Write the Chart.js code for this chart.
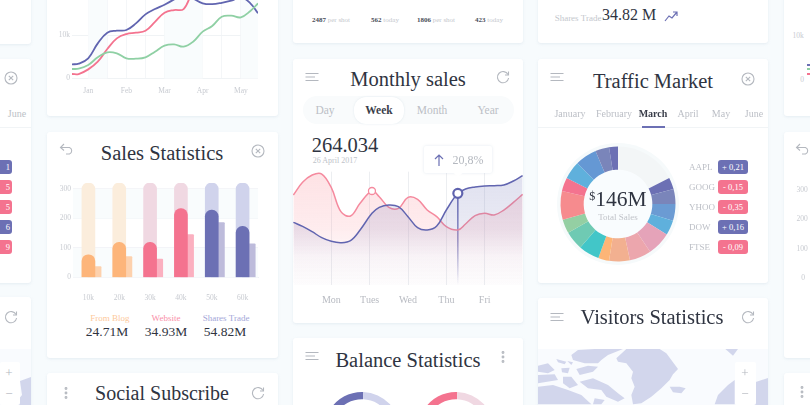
<!DOCTYPE html>
<html>
<head>
<meta charset="utf-8">
<script src="https://cdn.jsdelivr.net/npm/chart.js@4"></script>
<style>
  html { background: #f7fbfd; }
  html, body { margin: 0; height: 405px; width: 810px; overflow: hidden; }
  body { position: relative; font-family: "Liberation Serif", serif; color: #2f3441; background: #f7fbfd; filter: blur(.35px); }
  .card { position: absolute; background: #fff; border-radius: 3px; box-shadow: 0 1px 3px rgba(190,205,220,.3); overflow: hidden; }
  canvas { position: absolute; }
  .t { position: absolute; white-space: nowrap; transform: translate(-50%, -50%); }
  .title { font-size: 20.5px; color: #2f3441; }
  .tab { font-size: 10px; color: #bcbfc6; }
  .b { font-weight: bold; color: #3a3e4a; }
  .ic { position: absolute; width: 16px; height: 16px; transform: translate(-50%, -50%); fill: none; stroke: #b4b8bf; stroke-width: 1.1; }
  .badge { position: absolute; left: 718px; width: 30px; height: 14px; line-height: 14px; border-radius: 3px; color: #fff; font-size: 8.5px; text-align: center; }
  .sym { position: absolute; font-size: 9px; color: #bcbfc6; left: 689px; transform: translateY(-50%); }
  .up { background: #6c70b4; }
  .down { background: #f4738f; }
  .small { font-size: 7px; color: #c4c7cd; }
  .small i { font-style: normal; font-weight: bold; color: #4a4e5a; }
</style>
</head>
<body>
<svg width="0" height="0" style="position:absolute">
  <symbol id="menu" viewBox="0 0 16 16"><path d="M1.500 4.500H14.500M1.500 8H11M1.500 11.500H14.500"/></symbol>
  <symbol id="refresh" viewBox="0 0 16 16"><path d="M13 5.500A5.600 5.600 0 1 0 13.600 9"/><path d="M13.500 2.500V6H10"/></symbol>
  <symbol id="close" viewBox="0 0 16 16"><circle cx="8" cy="8" r="6"/><path d="M5.800 5.800L10.200 10.200M10.200 5.800L5.800 10.200"/></symbol>
  <symbol id="back" viewBox="0 0 16 16"><path d="M5 3L1.500 6.500L5 9.500M1.500 6.500H10.500A3.500 3.500 0 0 1 10.500 13H7"/></symbol>
  <symbol id="dots" viewBox="0 0 16 16"><circle cx="8" cy="3.500" r=".9"/><circle cx="8" cy="8" r=".9"/><circle cx="8" cy="12.500" r=".9"/></symbol>
</svg>

<!-- left edge column -->
<div class="card" style="left:-200px;top:-60px;width:231px;height:104px"></div>
<div class="card" style="left:-200px;top:59px;width:231px;height:224px">
  <div style="position:absolute;left:0;right:0;top:68px;height:1px;background:#f1f4f6"></div>
</div>
<div class="card" style="left:-200px;top:297px;width:231px;height:130px"></div>
<svg class="ic" style="left:11px;top:78px"><use href="#close"/></svg>
<div class="t tab" style="left:17px;top:113px">June</div>
<div class="badge up" style="left:-18px;top:160px;text-align:right;padding-right:2px;width:28px">1</div>
<div class="badge down" style="left:-18px;top:180px;text-align:right;padding-right:2px;width:28px">5</div>
<div class="badge down" style="left:-18px;top:200px;text-align:right;padding-right:2px;width:28px">5</div>
<div class="badge up" style="left:-18px;top:220px;text-align:right;padding-right:2px;width:28px">6</div>
<div class="badge down" style="left:-18px;top:240px;text-align:right;padding-right:2px;width:28px">9</div>
<svg class="ic" style="left:11px;top:317px"><use href="#refresh"/></svg>
<svg style="position:absolute;left:0;top:349px" width="31" height="56"><rect width="31" height="56" fill="#f9fbfe"/><path d="M20 32L31 28V56H14L22 46Z" fill="#d2d6ec"/></svg>
<div style="position:absolute;left:0;top:362px;width:20px;height:43px;background:#fff;border-radius:2px"></div>
<div class="t" style="left:9px;top:373px;font-size:13px;color:#b4b8bf">+</div>
<div class="t" style="left:9px;top:394px;font-size:13px;color:#b4b8bf">−</div>

<!-- first column -->
<div class="card" style="left:47px;top:-60px;width:231px;height:176px"></div>
<canvas id="trendChart" width="230" height="146" style="left:47px;top:-30px"></canvas>

<div class="card" style="left:47px;top:132px;width:231px;height:226px"></div>
<svg class="ic" style="left:67px;top:149px"><use href="#back"/></svg>
<div class="t title" style="left:162px;top:153px">Sales Statistics</div>
<svg class="ic" style="left:258px;top:151px"><use href="#close"/></svg>
<canvas id="salesChart" width="230" height="125" style="left:47px;top:175px"></canvas>
<div class="t" style="left:110px;top:318px;font-size:9px;color:#fdc99b">From Blog</div>
<div class="t" style="left:166px;top:318px;font-size:9px;color:#f98fa8">Website</div>
<div class="t" style="left:226px;top:318px;font-size:9px;color:#a4a6d8">Shares Trade</div>
<div class="t" style="left:107px;top:332px;font-size:13.500px">24.71M</div>
<div class="t" style="left:166px;top:332px;font-size:13.500px">34.93M</div>
<div class="t" style="left:225px;top:332px;font-size:13.500px">54.82M</div>

<div class="card" style="left:47px;top:373px;width:231px;height:80px"></div>
<svg class="ic" style="left:66px;top:393px"><use href="#dots"/></svg>
<div class="t title" style="left:162px;top:393px;font-size:20px">Social Subscribe</div>
<svg class="ic" style="left:258px;top:393px"><use href="#refresh"/></svg>

<!-- second column -->
<div class="card" style="left:293px;top:-60px;width:230px;height:103px"></div>
<div class="t small" style="left:331px;top:20px"><i>2487</i> per shot</div>
<div class="t small" style="left:385px;top:20px"><i>562</i> today</div>
<div class="t small" style="left:436px;top:20px"><i>1806</i> per shot</div>
<div class="t small" style="left:489px;top:20px"><i>423</i> today</div>

<div class="card" style="left:293px;top:59px;width:230px;height:264px"></div>
<svg class="ic" style="left:312px;top:77px"><use href="#menu"/></svg>
<div class="t title" style="left:408px;top:79px">Monthly sales</div>
<svg class="ic" style="left:503px;top:77px"><use href="#refresh"/></svg>
<div style="position:absolute;left:303px;top:96px;width:211px;height:28px;border-radius:14px;background:#f9fbfc"></div>
<div style="position:absolute;left:354px;top:97px;width:50px;height:27px;border-radius:12px;background:#fff;box-shadow:0 0 2px rgba(200,215,225,.5)"></div>
<div class="t" style="left:325px;top:110px;font-size:11.500px;color:#bcbfc6">Day</div>
<div class="t b" style="left:379px;top:110px;font-size:11.500px">Week</div>
<div class="t" style="left:432px;top:110px;font-size:11.500px;color:#bcbfc6">Month</div>
<div class="t" style="left:488px;top:110px;font-size:11.500px;color:#bcbfc6">Year</div>
<div class="t" style="left:345px;top:145px;font-size:20.500px">264.034</div>
<div class="t" style="left:335px;top:160px;font-size:8px;color:#c0c3c9">26 April 2017</div>
<canvas id="weekChart" width="230" height="145" style="left:293px;top:165px"></canvas>
<div style="position:absolute;left:424px;top:146px;width:68px;height:27px;background:#fff;border-radius:2px;box-shadow:0 0 3px rgba(190,205,220,.45)"></div>
<div style="position:absolute;left:455px;top:170px;width:6px;height:6px;background:#fff;transform:rotate(45deg)"></div>
<svg style="position:absolute;left:432px;top:153px" width="14" height="14" fill="none" stroke="#6c70b4" stroke-width="1.200"><path d="M7 13V2M3 6L7 2L11 6"/></svg>
<div class="t" style="left:468px;top:160px;font-size:12px;color:#b4b8bf">20,8%</div>

<div class="card" style="left:293px;top:338px;width:230px;height:110px"></div>
<svg class="ic" style="left:312px;top:356px"><use href="#menu"/></svg>
<div class="t title" style="left:408px;top:360px">Balance Statistics</div>
<svg class="ic" style="left:503px;top:357px"><use href="#dots"/></svg>
<canvas id="balanceA" width="84" height="84" style="left:320px;top:388px"></canvas>
<canvas id="balanceB" width="84" height="84" style="left:414px;top:388px"></canvas>

<!-- third column -->
<div class="card" style="left:538px;top:-60px;width:230px;height:103px"></div>
<div class="t" style="left:578px;top:18px;font-size:9px;color:#c4c7cd">Shares Trade</div>
<div class="t" style="left:629px;top:15px;font-size:16px">34.82 M</div>
<svg style="position:absolute;left:664px;top:9px" width="14" height="14" fill="none" stroke="#6c70b4" stroke-width="1.200"><path d="M1 12L5 7L8 9L13 3M9 3H13V7"/></svg>

<div class="card" style="left:538px;top:59px;width:230px;height:224px">
  <div style="position:absolute;left:0;right:0;top:68px;height:1px;background:#f1f4f6"></div>
</div>
<svg class="ic" style="left:557px;top:77px"><use href="#menu"/></svg>
<div class="t title" style="left:653px;top:81px">Traffic Market</div>
<svg class="ic" style="left:748px;top:79px"><use href="#close"/></svg>
<div class="t tab" style="left:570px;top:113px">January</div>
<div class="t tab" style="left:614px;top:113px">February</div>
<div class="t tab b" style="left:653px;top:113px">March</div>
<div class="t tab" style="left:688px;top:113px">April</div>
<div class="t tab" style="left:721px;top:113px">May</div>
<div class="t tab" style="left:754px;top:113px">June</div>
<div style="position:absolute;left:642px;top:126px;width:23px;height:1.500px;background:#6c70b4"></div>
<div style="position:absolute;left:557px;top:143px;width:122px;height:122px;border-radius:50%;background:#f6fafb"></div>
<div style="position:absolute;left:580px;top:166px;width:76px;height:76px;border-radius:50%;background:#f9fcfe"></div>
<canvas id="marketChart" width="124" height="124" style="left:556px;top:142px"></canvas>
<div class="t" style="left:618px;top:199px;font-size:21.500px;white-space:nowrap"><sup style="font-size:12px;vertical-align:6px">$</sup>146M</div>
<div class="t" style="left:618px;top:217px;font-size:9px;color:#c0c3c9">Total Sales</div>
<div class="sym" style="top:167px">AAPL</div><div class="badge up" style="top:160px">+ 0,21</div>
<div class="sym" style="top:187px">GOOG</div><div class="badge down" style="top:180px">- 0,15</div>
<div class="sym" style="top:207px">YHOO</div><div class="badge down" style="top:200px">- 0,35</div>
<div class="sym" style="top:227px">DOW</div><div class="badge up" style="top:220px">+ 0,16</div>
<div class="sym" style="top:247px">FTSE</div><div class="badge down" style="top:240px">- 0,09</div>

<div class="card" style="left:538px;top:298px;width:230px;height:130px"></div>
<svg class="ic" style="left:557px;top:317px"><use href="#menu"/></svg>
<div class="t title" style="left:652px;top:317px">Visitors Statistics</div>
<svg class="ic" style="left:748px;top:317px"><use href="#refresh"/></svg>
<svg style="position:absolute;left:538px;top:345px" width="230" height="60" viewBox="0 0 690 180">
  <rect x="0" y="12" width="690" height="170" fill="#f9fbfe"/>
  <g fill="#d2d6ec">
    <path d="M235 40L265 12H365L385 25L400 45L420 72L405 88L395 105L370 130L340 155L310 175L285 178L280 150L290 125L280 100L285 80L265 55L240 50Z"/>
    <path d="M395 125L425 125L443 130L430 145L405 142Z"/>
    <path d="M530 178L540 150L570 120L590 105V178Z"/>
    <path d="M642 115L690 99V180H620Z"/>
    <path d="M562 12H600L585 32Z"/>
    <path d="M120 15L170 12H255L210 30L190 45L180 55L140 55L105 45L100 30Z"/>
    <path d="M55 42L85 50L80 58L60 52Z"/>
    <path d="M88 48L105 52L100 60Z"/>
    <path d="M0 62L30 55L50 75L30 85L0 80Z"/>
    <path d="M70 70L95 68L90 85L72 82Z"/>
    <path d="M115 72L150 62L180 65L165 80L125 90Z"/>
    <path d="M0 90L50 88L60 105L0 115Z"/>
    <path d="M75 95L100 95L120 120L95 130L75 115Z"/>
    <path d="M125 110L165 100L210 120L240 145L260 160L240 170L205 155L190 135L150 130Z"/>
    <path d="M0 125L45 120L90 135L130 150L160 178H0Z"/>
    <path d="M170 160L200 165L190 178H165Z"/>
  </g>
</svg>
<div style="position:absolute;left:735px;top:362px;width:21px;height:43px;background:#fff;border-radius:2px"></div>
<div class="t" style="left:745px;top:373px;font-size:13px;color:#b4b8bf">+</div>
<div class="t" style="left:745px;top:394px;font-size:13px;color:#b4b8bf">−</div>

<!-- right edge column -->
<div class="card" style="left:784px;top:-60px;width:231px;height:176px"></div>
<div class="card" style="left:784px;top:132px;width:231px;height:226px"></div>
<div class="card" style="left:784px;top:373px;width:231px;height:80px"></div>
<div class="t" style="left:798px;top:35px;font-size:7.500px;color:#c8cbd1">10k</div>
<div class="t" style="left:802px;top:79px;font-size:7.500px;color:#c8cbd1">0</div>
<div style="position:absolute;left:807px;top:64px;width:3px;height:2px;background:#6c70b4"></div>
<div style="position:absolute;left:807px;top:68px;width:3px;height:2px;background:#8fd0a4"></div>
<div style="position:absolute;left:807px;top:73px;width:3px;height:2px;background:#f4738f"></div>
<svg class="ic" style="left:803px;top:149px"><use href="#back"/></svg>
<div class="t" style="left:802px;top:189px;font-size:7.500px;color:#c8cbd1">300</div>
<div class="t" style="left:802px;top:218px;font-size:7.500px;color:#c8cbd1">200</div>
<div class="t" style="left:802px;top:248px;font-size:7.500px;color:#c8cbd1">100</div>
<div class="t" style="left:803px;top:277px;font-size:7.500px;color:#c8cbd1">0</div>
<svg class="ic" style="left:802px;top:392px"><use href="#dots"/></svg>

<script>
// trend chart (top left), x is in half months: Jan = 1, Feb = 3 ... values in thousands
const trendX = [0.15, 0.5, 1, 1.5, 2, 2.5, 3, 3.5, 4, 4.5, 5, 5.5, 6, 6.5, 7, 7.5, 8, 8.5, 9, 9.5, 9.9];
const trendBlue = [3.26, 3.41, 4.64, 8.08, 10.54, 11, 11.15, 12.68, 14.75, 15.98, 16.97, 18.2, 19.6, 18.4, 17.3, 17.1, 17.4, 17.9, 18.7, 17.3, 15];
const trendRed = [1.03, 1.03, 2.1, 3.87, 6.78, 9.23, 10.23, 10.54, 10.99, 13.03, 15.13, 15.75, 15.98, 20, 21.5, 21.9, 21.5, 21.9, 22.6, 21.9, 21.1];
const trendGreen = [2.18, 2.26, 3.1, 4.87, 6.02, 5.79, 4.64, 4.56, 4.87, 6.17, 7.55, 7.85, 7.32, 8.47, 10.77, 12.07, 14.21, 14.44, 14.06, 15.52, 17.28];
const trendMonths = { 1: 'Jan', 3: 'Feb', 5: 'Mar', 7: 'Apr', 9: 'May' };

// sales statistics
const salesCats = ['10k', '20k', '30k', '40k', '50k', '60k'];
const salesTrack = [320, 320, 320, 320, 320, 320];
const salesMain = [77, 119, 119, 233, 228, 173];
const salesSecond = [37, 71, 62, 145, 186, 114];
const trackColors = ['#fbeddc', '#fbeddc', '#f0d8e2', '#f0d8e2', '#d0d3ec', '#d0d3ec'];
const mainColors = ['#fdb57a', '#fdb57a', '#f4738f', '#f4738f', '#6c70b4', '#6c70b4'];
const secondColors = ['#fdd1ad', '#fdd1ad', '#fbb0c0', '#fbb0c0', '#bdbbdb', '#bdbbdb'];

// monthly sales, x: Mon = 1 ... Fri = 5
const weekDays = ['Mon', 'Tues', 'Wed', 'Thu', 'Fri'];
const weekX = [0.01, 0.25, 0.5, 0.75, 1, 1.25, 1.5, 1.75, 2.06, 2.25, 2.5, 2.75, 3, 3.25, 3.5, 3.75, 4, 4.3, 4.5, 4.75, 5, 5.25, 5.5, 5.75, 5.99];
const weekRed = [270, 308, 330, 333, 292, 220, 207, 245, 282, 265, 233, 230, 263, 257, 225, 205, 175, 165, 183, 208, 215, 210, 225, 248, 272];
const weekBlue = [188, 176, 160, 142, 131, 127, 133, 165, 215, 233, 240, 235, 205, 172, 165, 177, 225, 275, 288, 294, 297, 298, 300, 312, 328];
const weekBlueMark = 17;
const weekRedMark = 8;

// traffic market ring, degrees per slice, first slice is the empty part
const marketValues = [63, 12, 15, 17, 15, 24, 22, 21, 11, 21, 19, 14, 29, 14, 18, 22, 14, 9];
const marketColors = ['#f3f6f7', '#6c70b4', '#7a85ba', '#6b9bd3', '#5fb0dc', '#e5a3b9', '#eca6ad', '#f2b090', '#fdb577', '#42c6c8', '#6fcab3', '#94cfa3', '#f68b8e', '#f4738f', '#5fb0dc', '#6598d4', '#7a85ba', '#6c70b4'];

// balance statistics rings, degrees
const balanceA = [122, 238];
const balanceB = [122, 238];

Chart.defaults.font.family = '"Liberation Serif", serif';
Chart.defaults.animation = false;
Chart.defaults.responsive = false;
Chart.defaults.plugins.legend.display = false;
Chart.defaults.plugins.tooltip.enabled = false;

const bandsPlugin = {
  id: 'bands',
  beforeDatasetsDraw(chart, args, opts) {
    const { ctx, chartArea: a } = chart;
    ctx.save();
    ctx.fillStyle = opts.color;
    (opts.x || []).forEach(([from, to]) => {
      const x0 = chart.scales.x.getPixelForValue(from);
      const x1 = chart.scales.x.getPixelForValue(to);
      ctx.fillRect(x0, a.top, x1 - x0, a.bottom - a.top);
    });
    (opts.y || []).forEach(([from, to]) => {
      const y0 = chart.scales.y.getPixelForValue(to);
      const y1 = chart.scales.y.getPixelForValue(from);
      ctx.fillRect(a.left, y0, a.right - a.left, y1 - y0);
    });
    ctx.restore();
  }
};

// keep the plot area where the reference has it
function fixHeight(h) {
  return s => { s.height = h; s.paddingLeft = 0; s.paddingRight = 0; };
}

new Chart(document.getElementById('trendChart'), {
  type: 'line',
  plugins: [bandsPlugin],
  data: {
    datasets: [
      { data: trendX.map((x, i) => ({ x, y: trendGreen[i] })), borderColor: '#8fd0a4' },
      { data: trendX.map((x, i) => ({ x, y: trendRed[i] })), borderColor: '#f4738f' },
      { data: trendX.map((x, i) => ({ x, y: trendBlue[i] })), borderColor: '#6165b0' }
    ]
  },
  options: {
    layout: { padding: { top: 8.5, right: 19 } },
    elements: { point: { radius: 0 }, line: { borderWidth: 1.8, tension: 0.4 } },
    plugins: { bands: { color: '#f9fcfd', x: [[1, 2], [5, 7], [9, 9.9]] } },
    scales: {
      x: {
        type: 'linear', min: 0.15, max: 9.9,
        afterFit: fixHeight(37.5),
        border: { display: false },
        grid: { color: '#f4f6f8', drawTicks: false },
        ticks: { stepSize: 1, autoSkip: false, maxRotation: 0, includeBounds: false, padding: 8, color: '#c8cbd1', font: { size: 7.5 }, callback: v => trendMonths[v] || '' }
      },
      y: {
        min: 0, max: 23,
        afterFit: s => { s.width = 25; },
        border: { display: false },
        grid: { color: '#f0f3f5', drawTicks: false },
        ticks: { stepSize: 10, includeBounds: false, padding: 2, color: '#c8cbd1', font: { size: 7.5 }, callback: v => (v ? v + 'k' : '0') }
      }
    }
  }
});

new Chart(document.getElementById('salesChart'), {
  type: 'bar',
  plugins: [bandsPlugin],
  data: {
    labels: salesCats,
    datasets: [
      { data: salesTrack, backgroundColor: trackColors, order: 3, borderRadius: { topLeft: 6.5, topRight: 6.5 }, borderSkipped: 'bottom' },
      { data: salesSecond.map((y, i) => ({ x: i, y })), xAxisID: 'xShift', backgroundColor: secondColors, order: 2, borderRadius: { topLeft: 1, topRight: 1 }, borderSkipped: 'bottom' },
      { data: salesMain, backgroundColor: mainColors, order: 1, borderRadius: { topLeft: 6.5, topRight: 6.5 }, borderSkipped: 'bottom' }
    ]
  },
  options: {
    layout: { padding: { top: 8, right: 19 } },
    datasets: { bar: { grouped: false, barThickness: 13 } },
    plugins: { bands: { color: '#f9fcfd', y: [[200, 300], [0, 100]] } },
    scales: {
      x: {
        afterFit: fixHeight(22.5),
        border: { color: '#eef1f4' },
        grid: { display: false },
        ticks: { padding: 8, color: '#c8cbd1', font: { size: 7.5 } }
      },
      // hidden copy of x, moved a little so the lighter bars peek out on the right
      xShift: { type: 'linear', display: false, offset: false, min: -0.7, max: 5.3 },
      y: {
        min: 0, max: 320,
        afterFit: s => { s.width = 26; },
        border: { display: false },
        grid: { color: '#f3f4f8', drawTicks: false },
        ticks: { stepSize: 100, includeBounds: false, padding: 2, color: '#c8cbd1', font: { size: 7.5 } }
      }
    }
  }
});

function fadeFill(rgb, top) {
  return ctx => {
    const a = ctx.chart.chartArea;
    if (!a) return 'transparent';
    const g = ctx.chart.ctx.createLinearGradient(0, a.top, 0, a.bottom);
    g.addColorStop(0, `rgba(${rgb},${top})`);
    g.addColorStop(0.5, `rgba(${rgb},${top * 0.65})`);
    g.addColorStop(0.75, `rgba(${rgb},${top * 0.2})`);
    g.addColorStop(1, `rgba(${rgb},0.01)`);
    return g;
  };
}

const markerLine = {
  id: 'markerLine',
  beforeDatasetsDraw(chart) {
    const { ctx, chartArea: a, scales } = chart;
    const x = scales.x.getPixelForValue(weekX[weekBlueMark]);
    const y = scales.y.getPixelForValue(weekBlue[weekBlueMark]);
    const g = ctx.createLinearGradient(0, y, 0, a.bottom);
    g.addColorStop(0, '#6165b0');
    g.addColorStop(0.5, '#8c8fc6');
    g.addColorStop(1, 'rgba(140,143,198,0)');
    ctx.save();
    ctx.strokeStyle = g;
    ctx.lineWidth = 1.5;
    ctx.beginPath();
    ctx.moveTo(x, y);
    ctx.lineTo(x, a.bottom);
    ctx.stroke();
    ctx.restore();
  }
};

new Chart(document.getElementById('weekChart'), {
  type: 'line',
  plugins: [markerLine],
  data: {
    datasets: [
      {
        data: weekX.map((x, i) => ({ x, y: weekRed[i] })), order: 2, fill: 'origin',
        borderColor: '#f58a9e', borderWidth: 1.5, backgroundColor: fadeFill('250,150,160', 0.28),
        pointRadius: c => (c.dataIndex === weekRedMark ? 3.5 : 0),
        pointBackgroundColor: '#fff', pointBorderColor: '#f58a9e', pointBorderWidth: 1.3
      },
      {
        data: weekX.map((x, i) => ({ x, y: weekBlue[i] })), order: 1, fill: 'origin',
        borderColor: '#6165b0', borderWidth: 1.5, backgroundColor: fadeFill('108,112,180', 0.22),
        pointRadius: c => (c.dataIndex === weekBlueMark ? 4.5 : 0),
        pointBackgroundColor: '#fff', pointBorderColor: '#5f63ae', pointBorderWidth: 2.2
      }
    ]
  },
  options: {
    layout: { padding: { top: 6.67 } },
    elements: { line: { tension: 0.38 } },
    scales: {
      x: {
        type: 'linear', min: 0, max: 6,
        afterFit: fixHeight(25),
        border: { display: false },
        grid: { drawTicks: false, color: c => (c.tick && c.tick.value >= 1 && c.tick.value <= 5 ? '#eceef1' : 'transparent') },
        ticks: { stepSize: 1, autoSkip: false, maxRotation: 0, padding: 9, color: '#b8bbc2', font: { size: 10 }, callback: v => weekDays[v - 1] || '' }
      },
      y: { display: false, min: 0, max: 340 }
    }
  }
});

new Chart(document.getElementById('marketChart'), {
  type: 'doughnut',
  data: { datasets: [{ data: marketValues, backgroundColor: marketColors, borderWidth: 0 }] },
  options: { radius: 57.5, cutout: 37 }
});

function balanceRing(id, values, colors) {
  new Chart(document.getElementById(id), {
    type: 'doughnut',
    data: { datasets: [{ data: values, backgroundColor: colors, borderWidth: 0 }] },
    options: { radius: 38, cutout: 34, rotation: -120 }
  });
}
balanceRing('balanceA', balanceA, ['#6c70b4', '#d0d3ec']);
balanceRing('balanceB', balanceB, ['#f4738f', '#f0d8e2']);
</script>
</body>
</html>
